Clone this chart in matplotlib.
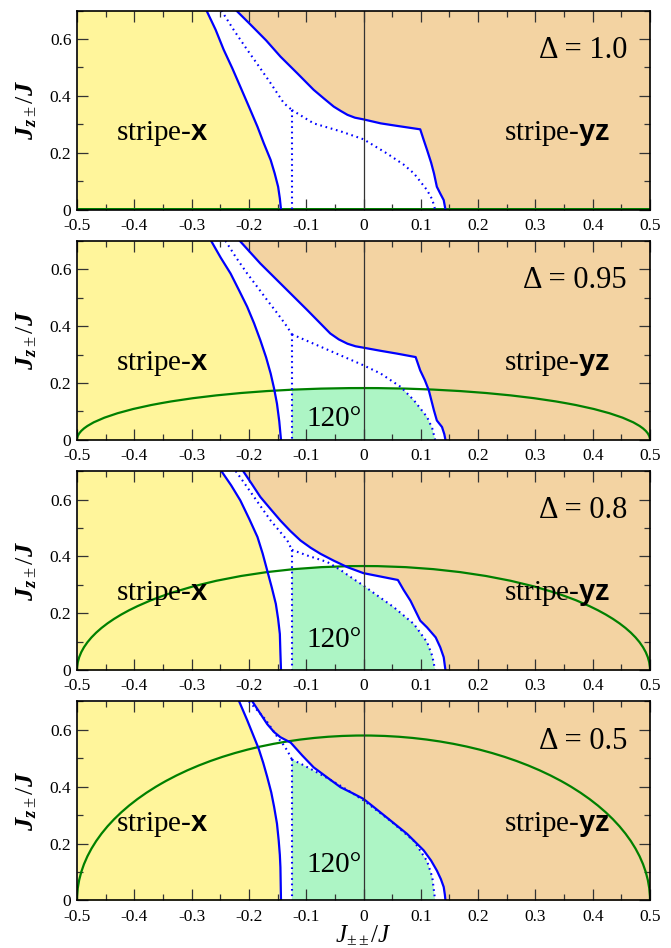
import matplotlib.pyplot as plt
from matplotlib.patches import Ellipse, Polygon
from matplotlib.ticker import MultipleLocator, FuncFormatter

plt.rcParams.update({
    'font.family': 'Liberation Serif',
    'mathtext.fontset': 'custom',
    'mathtext.rm': 'Liberation Serif',
    'mathtext.it': 'Liberation Serif:italic',
    'mathtext.bf': 'Liberation Sans:bold',
    'mathtext.bfit': 'Liberation Serif:bold:italic',
    'axes.unicode_minus': False,
})

# anisotropy of each panel, top to bottom
deltas = [1.0, 0.95, 0.8, 0.5]
# height of the classical 120-degree ellipse at J++ = 0
ellipse_heights = [0.0, 0.182, 0.366, 0.58]
# baseline of the "120°" label
label_120_y = [None, 0.05, 0.08, 0.10]

# Delta = 1.0
d10_lx = [-0.274, -0.258, -0.244, -0.229, -0.215, -0.200, -0.185, -0.174, -0.162,
          -0.155, -0.149, -0.146, -0.144]
d10_ly = [0.70, 0.632, 0.562, 0.497, 0.432, 0.362, 0.291, 0.233, 0.174,
          0.127, 0.080, 0.039, 0.0]
d10_rx = [-0.222, -0.197, -0.170, -0.145, -0.115, -0.087, -0.070, -0.052, -0.040, -0.028,
          -0.015, 0.0, 0.030, 0.059, 0.099, 0.105, 0.111, 0.118, 0.123, 0.128, 0.134,
          0.140, 0.143]
d10_ry = [0.70, 0.65, 0.595, 0.538, 0.478, 0.421, 0.392, 0.362, 0.347, 0.333,
          0.323, 0.317, 0.303, 0.294, 0.282, 0.245, 0.209, 0.165, 0.127, 0.080, 0.056,
          0.033, 0.0]
d10_dx = [-0.248, -0.226, -0.203, -0.182, -0.162, -0.139, -0.125]
d10_dy = [0.70, 0.630, 0.562, 0.502, 0.444, 0.374, 0.350]
d10_cx = [-0.125, -0.087, -0.040, 0.0, 0.041, 0.070, 0.088, 0.111, 0.120, 0.125]
d10_cy = [0.350, 0.303, 0.275, 0.247, 0.197, 0.158, 0.127, 0.068, 0.035, 0.0]

# Delta = 0.95
d095_lx = [-0.266, -0.249, -0.232, -0.217, -0.203, -0.191, -0.180, -0.170, -0.162,
           -0.156, -0.151, -0.147, -0.144]
d095_ly = [0.70, 0.640, 0.585, 0.525, 0.468, 0.410, 0.350, 0.290, 0.233,
           0.180, 0.127, 0.065, 0.0]
d095_rx = [-0.216, -0.198, -0.180, -0.145, -0.120, -0.098, -0.078, -0.058, -0.043, -0.028,
           -0.014, 0.0, 0.030, 0.059, 0.091, 0.099, 0.107, 0.114, 0.123, 0.128, 0.137,
           0.141, 0.143]
d095_ry = [0.70, 0.660, 0.620, 0.550, 0.500, 0.456, 0.415, 0.374, 0.353, 0.338,
           0.329, 0.324, 0.313, 0.303, 0.291, 0.244, 0.210, 0.174, 0.103, 0.068, 0.045,
           0.020, 0.0]
d095_dx = [-0.241, -0.222, -0.203, -0.185, -0.168, -0.150, -0.133, -0.125]
d095_dy = [0.70, 0.640, 0.585, 0.537, 0.491, 0.444, 0.397, 0.371]
d095_cx = [-0.125, -0.087, -0.040, 0.0, 0.030, 0.065, 0.088, 0.111, 0.120, 0.125]
d095_cy = [0.371, 0.338, 0.297, 0.262, 0.233, 0.186, 0.139, 0.080, 0.040, 0.0]

# Delta = 0.8
d08_lx = [-0.248, -0.231, -0.215, -0.199, -0.185, -0.176, -0.168, -0.160, -0.153,
          -0.149, -0.146, -0.145, -0.144]
d08_ly = [0.70, 0.650, 0.597, 0.530, 0.468, 0.410, 0.350, 0.290, 0.233,
          0.180, 0.127, 0.060, 0.0]
d08_rx = [-0.210, -0.195, -0.180, -0.162, -0.145, -0.128, -0.110, -0.092, -0.075, -0.052,
          -0.028, 0.0, 0.030, 0.060, 0.070, 0.082, 0.099, 0.111, 0.126, 0.134, 0.140,
          0.143]
d08_ry = [0.70, 0.655, 0.609, 0.566, 0.526, 0.490, 0.456, 0.430, 0.409, 0.385,
          0.362, 0.341, 0.329, 0.317, 0.282, 0.244, 0.174, 0.150, 0.115, 0.080, 0.045,
          0.0]
d08_dx = [-0.223, -0.207, -0.191, -0.176, -0.162, -0.147, -0.133, -0.125]
d08_dy = [0.70, 0.655, 0.609, 0.566, 0.526, 0.490, 0.456, 0.423]
d08_cx = [-0.125, -0.098, -0.063, -0.040, -0.020, 0.0, 0.053, 0.088, 0.111, 0.120, 0.125]
d08_cy = [0.423, 0.403, 0.380, 0.352, 0.324, 0.297, 0.221, 0.162, 0.098, 0.050, 0.0]

# Delta = 0.5
d05_lx = [-0.217, -0.210, -0.203, -0.193, -0.183, -0.175, -0.168, -0.161, -0.156,
          -0.151, -0.148, -0.146, -0.145, -0.144]
d05_ly = [0.70, 0.667, 0.634, 0.584, 0.534, 0.484, 0.434, 0.380, 0.329,
          0.270, 0.211, 0.160, 0.117, 0.0]
d05_rx = [-0.194, -0.181, -0.168, -0.156, -0.145, -0.127, -0.107, -0.087, -0.063, -0.040,
          -0.020, 0.0, 0.020, 0.041, 0.076, 0.105, 0.118, 0.128, 0.135, 0.140, 0.142,
          0.143]
d05_ry = [0.70, 0.660, 0.620, 0.592, 0.574, 0.555, 0.510, 0.468, 0.432, 0.398,
          0.378, 0.357, 0.325, 0.291, 0.234, 0.176, 0.140, 0.105, 0.075, 0.047, 0.020,
          0.0]
d05_dx = [-0.200, -0.185, -0.171, -0.160, -0.150, -0.140, -0.133, -0.125]
d05_dy = [0.70, 0.668, 0.636, 0.604, 0.574, 0.548, 0.527, 0.496]
d05_cx = [-0.125, -0.107, -0.087, -0.063, -0.040, -0.020, 0.0, 0.047, 0.088, 0.111,
          0.120, 0.125]
d05_cy = [0.496, 0.478, 0.457, 0.430, 0.403, 0.378, 0.352, 0.280, 0.209, 0.138,
          0.082, 0.0]

curves = [
    (d10_lx, d10_ly, d10_rx, d10_ry, d10_dx, d10_dy, d10_cx, d10_cy),
    (d095_lx, d095_ly, d095_rx, d095_ry, d095_dx, d095_dy, d095_cx, d095_cy),
    (d08_lx, d08_ly, d08_rx, d08_ry, d08_dx, d08_dy, d08_cx, d08_cy),
    (d05_lx, d05_ly, d05_rx, d05_ry, d05_dx, d05_dy, d05_cx, d05_cy),
]

yellow = '#fff59b'
tan = '#f3d3a2'
mint = '#adf5c5'
blue = '#0000ff'
green = '#008000'
dots = (0, (0.8, 1.8))

W, H = 671, 948
fig = plt.figure(figsize=(W / 100, H / 100), dpi=100)

tick_fmt = FuncFormatter(lambda v, p: '0' if abs(v) < 1e-9 else f'{v:g}')

for i, (delta, h, y120, c) in enumerate(zip(deltas, ellipse_heights, label_120_y, curves)):
    lx, ly, rx, ry, dx, dy, cx, cy = c
    bottom_px = 209.5 + 230.3 * i
    ax = fig.add_axes([77 / W, 1 - bottom_px / H, 573 / W, 199 / H])

    # stripe-x and stripe-yz phases
    ax.fill_betweenx(ly, -0.5, lx, color=yellow, lw=0, zorder=1)
    ax.fill_betweenx(ry, rx, 0.5, color=tan, lw=0, zorder=1)

    # classical 120-degree boundary, also clips the shaded region
    ell = Ellipse((0, 0), 1.0, 2 * h, fill=False, ec=green, lw=1.6, zorder=4)
    ax.add_patch(ell)
    if h > 0:
        region = Polygon(list(zip([cx[0]] + cx, [0.0] + cy)), closed=True,
                         fc=mint, ec='none', zorder=1.5)
        ax.add_patch(region)
        region.set_clip_path(ell)

    ax.plot(lx, ly, color=blue, lw=1.6, zorder=5, solid_joinstyle='round')
    ax.plot(rx, ry, color=blue, lw=1.6, zorder=5, solid_joinstyle='round')
    ax.plot(dx, dy, color=blue, lw=1.5, ls=dots, zorder=5)
    ax.plot([cx[0], cx[0]], [cy[0], 0.0], color=blue, lw=1.5, ls=dots, zorder=5)
    ax.plot(cx, cy, color=blue, lw=1.5, ls=dots, zorder=5)
    ax.axvline(0, color='#333333', lw=0.9, zorder=6)

    ax.set_xlim(-0.5, 0.5)
    ax.set_ylim(0, 0.7)
    ax.xaxis.set_major_locator(MultipleLocator(0.1))
    ax.xaxis.set_minor_locator(MultipleLocator(0.05))
    ax.yaxis.set_major_locator(MultipleLocator(0.2))
    ax.yaxis.set_minor_locator(MultipleLocator(0.1))
    ax.xaxis.set_major_formatter(tick_fmt)
    ax.yaxis.set_major_formatter(tick_fmt)
    ax.tick_params(which='both', direction='in', top=True, right=True,
                   labelsize=12.5, color='#333333', width=0.9)
    ax.tick_params(which='major', length=8)
    ax.tick_params(which='minor', length=4)
    ax.tick_params(axis='x', which='major', pad=6)
    ax.tick_params(axis='y', which='major', pad=4)
    for s in ax.spines.values():
        s.set_linewidth(1.2)
        s.set_zorder(7)

    ax.text(-0.352, 0.245, r'stripe-$\mathbf{x}$', ha='center', va='baseline', fontsize=21, zorder=8)
    ax.text(0.337, 0.245, r'stripe-$\mathbf{yz}$', ha='center', va='baseline', fontsize=21, zorder=8)
    ax.text(0.46, 0.534, f'Δ = {delta}', ha='right', va='baseline', fontsize=22, zorder=8)
    if y120 is not None:
        ax.text(-0.003, y120, '120°', ha='right', va='baseline', fontsize=21, zorder=8)

    ax.set_ylabel(r'$\mathbfit{J}_{\mathbfit{z}\pm}/\mathbfit{J}$', fontsize=19)
    ax.yaxis.set_label_coords(-0.067, 0.5)

ax.set_xlabel(r'$J_{\pm\pm}/J$', fontsize=18)
ax.xaxis.set_label_coords(0.5, -0.118)

fig.savefig('out.png', dpi=100)
